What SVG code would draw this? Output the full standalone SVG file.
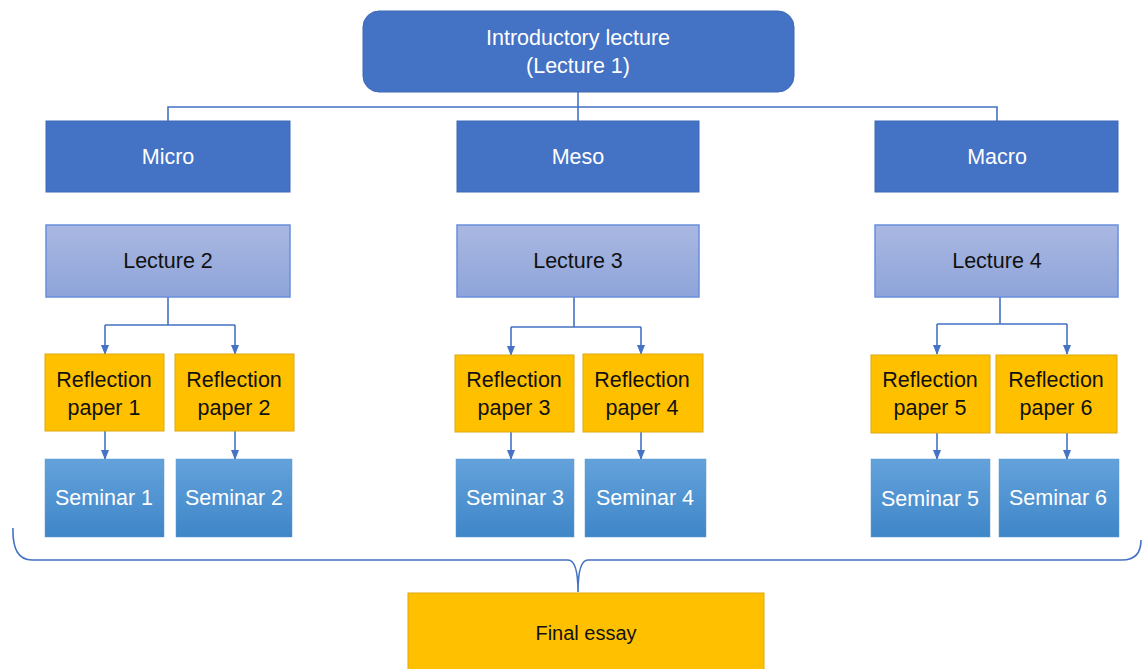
<svg xmlns="http://www.w3.org/2000/svg" width="1143" height="669" viewBox="0 0 1143 669">
<defs>
<linearGradient id="gLec" x1="0" y1="0" x2="0" y2="1"><stop offset="0" stop-color="#AAB8E2"/><stop offset="1" stop-color="#8EA4D9"/></linearGradient>
<linearGradient id="gSem" x1="0" y1="0" x2="0" y2="1"><stop offset="0" stop-color="#64A2DB"/><stop offset="1" stop-color="#3E86C8"/></linearGradient>
<marker id="arr" markerWidth="10" markerHeight="8" refX="9" refY="4" orient="auto" markerUnits="userSpaceOnUse"><path d="M0,0 L10,4 L0,8 Z" fill="#4472C4"/></marker>
<style>
text{font-family:"Liberation Sans",Arial,sans-serif;font-size:21.5px;text-anchor:middle;dominant-baseline:central}
.dark{fill:#4472C4;stroke:#3F68B5;stroke-width:1}
.lec{fill:url(#gLec);stroke:#6A8EDB;stroke-width:1.5}
.rp{fill:#FFC000;stroke:#DDA80E;stroke-width:1}
.sem{fill:url(#gSem);stroke:#5B9BD5;stroke-width:0.5}
.w{fill:#FFFFFF}
.b{fill:#111111}
.ln{fill:none;stroke:#4472C4;stroke-width:1.6}
.ar{fill:none;stroke:#4472C4;stroke-width:1.6;marker-end:url(#arr)}
</style>
</defs>
<rect width="1143" height="669" fill="#FFFFFF"/>
<g id="connectors">
<path class="ln" d="M578,92 V107 M168,121 V107 H997 V121 M578,107 V121"/>
<path class="ln" d="M168,297 V325 M105,325 H235"/>
<path class="ar" d="M105,325 V354"/>
<path class="ar" d="M235,325 V354"/>
<path class="ln" d="M574,297 V327 M511,327 H641"/>
<path class="ar" d="M511,327 V355"/>
<path class="ar" d="M641,327 V354"/>
<path class="ln" d="M1000,297 V324 M937,324 H1067"/>
<path class="ar" d="M937,324 V354"/>
<path class="ar" d="M1067,324 V354"/>
<path class="ar" d="M105,431 V459"/>
<path class="ar" d="M235,431 V459"/>
<path class="ar" d="M511,432 V459"/>
<path class="ar" d="M641,432 V459"/>
<path class="ar" d="M937,433 V459"/>
<path class="ar" d="M1067,433 V459"/>
<path class="ln" d="M13,528 Q12,560 32,560 H568 Q578,560 578,592 Q578,560 588,560 H1122 Q1141,560 1141,540"/>
</g>
<g id="intro"><rect class="dark" x="363" y="11" width="431" height="81" rx="16"/><text class="w" x="578" y="38">Introductory lecture</text><text class="w" x="578" y="66">(Lecture 1)</text></g>
<g id="micro"><rect class="dark" x="46" y="121" width="244" height="71"/><text class="w" x="168" y="157">Micro</text></g>
<g id="meso"><rect class="dark" x="457" y="121" width="242" height="71"/><text class="w" x="578" y="157">Meso</text></g>
<g id="macro"><rect class="dark" x="875" y="121" width="243" height="71"/><text class="w" x="997" y="157">Macro</text></g>
<g id="lecture2"><rect class="lec" x="46" y="225" width="244" height="72"/><text class="b" x="168" y="261">Lecture 2</text></g>
<g id="lecture3"><rect class="lec" x="457" y="225" width="242" height="72"/><text class="b" x="578" y="261">Lecture 3</text></g>
<g id="lecture4"><rect class="lec" x="875" y="225" width="243" height="72"/><text class="b" x="997" y="261">Lecture 4</text></g>
<g id="rp1"><rect class="rp" x="45" y="354" width="119" height="77"/><text class="b" x="104" y="380">Reflection</text><text class="b" x="104" y="408">paper 1</text></g>
<g id="rp2"><rect class="rp" x="175" y="354" width="119" height="77"/><text class="b" x="234" y="380">Reflection</text><text class="b" x="234" y="408">paper 2</text></g>
<g id="rp3"><rect class="rp" x="455" y="355" width="119" height="77"/><text class="b" x="514" y="380">Reflection</text><text class="b" x="514" y="408">paper 3</text></g>
<g id="rp4"><rect class="rp" x="583" y="354" width="120" height="78"/><text class="b" x="642" y="380">Reflection</text><text class="b" x="642" y="408">paper 4</text></g>
<g id="rp5"><rect class="rp" x="871" y="355" width="119" height="78"/><text class="b" x="930" y="380">Reflection</text><text class="b" x="930" y="408">paper 5</text></g>
<g id="rp6"><rect class="rp" x="996" y="355" width="121" height="78"/><text class="b" x="1056" y="380">Reflection</text><text class="b" x="1056" y="408">paper 6</text></g>
<g id="sem1"><rect class="sem" x="45" y="459" width="119" height="78"/><text class="w" x="104" y="498">Seminar 1</text></g>
<g id="sem2"><rect class="sem" x="176" y="459" width="116" height="78"/><text class="w" x="234" y="498">Seminar 2</text></g>
<g id="sem3"><rect class="sem" x="456" y="459" width="118" height="78"/><text class="w" x="515" y="498">Seminar 3</text></g>
<g id="sem4"><rect class="sem" x="585" y="459" width="121" height="78"/><text class="w" x="645" y="498">Seminar 4</text></g>
<g id="sem5"><rect class="sem" x="871" y="459" width="119" height="78"/><text class="w" x="930" y="499">Seminar 5</text></g>
<g id="sem6"><rect class="sem" x="999" y="459" width="120" height="78"/><text class="w" x="1058" y="498">Seminar 6</text></g>
<g id="final"><rect class="rp" x="408" y="593" width="356" height="80"/><text class="b" x="586" y="633" style="font-size:20px">Final essay</text></g>
</svg>
